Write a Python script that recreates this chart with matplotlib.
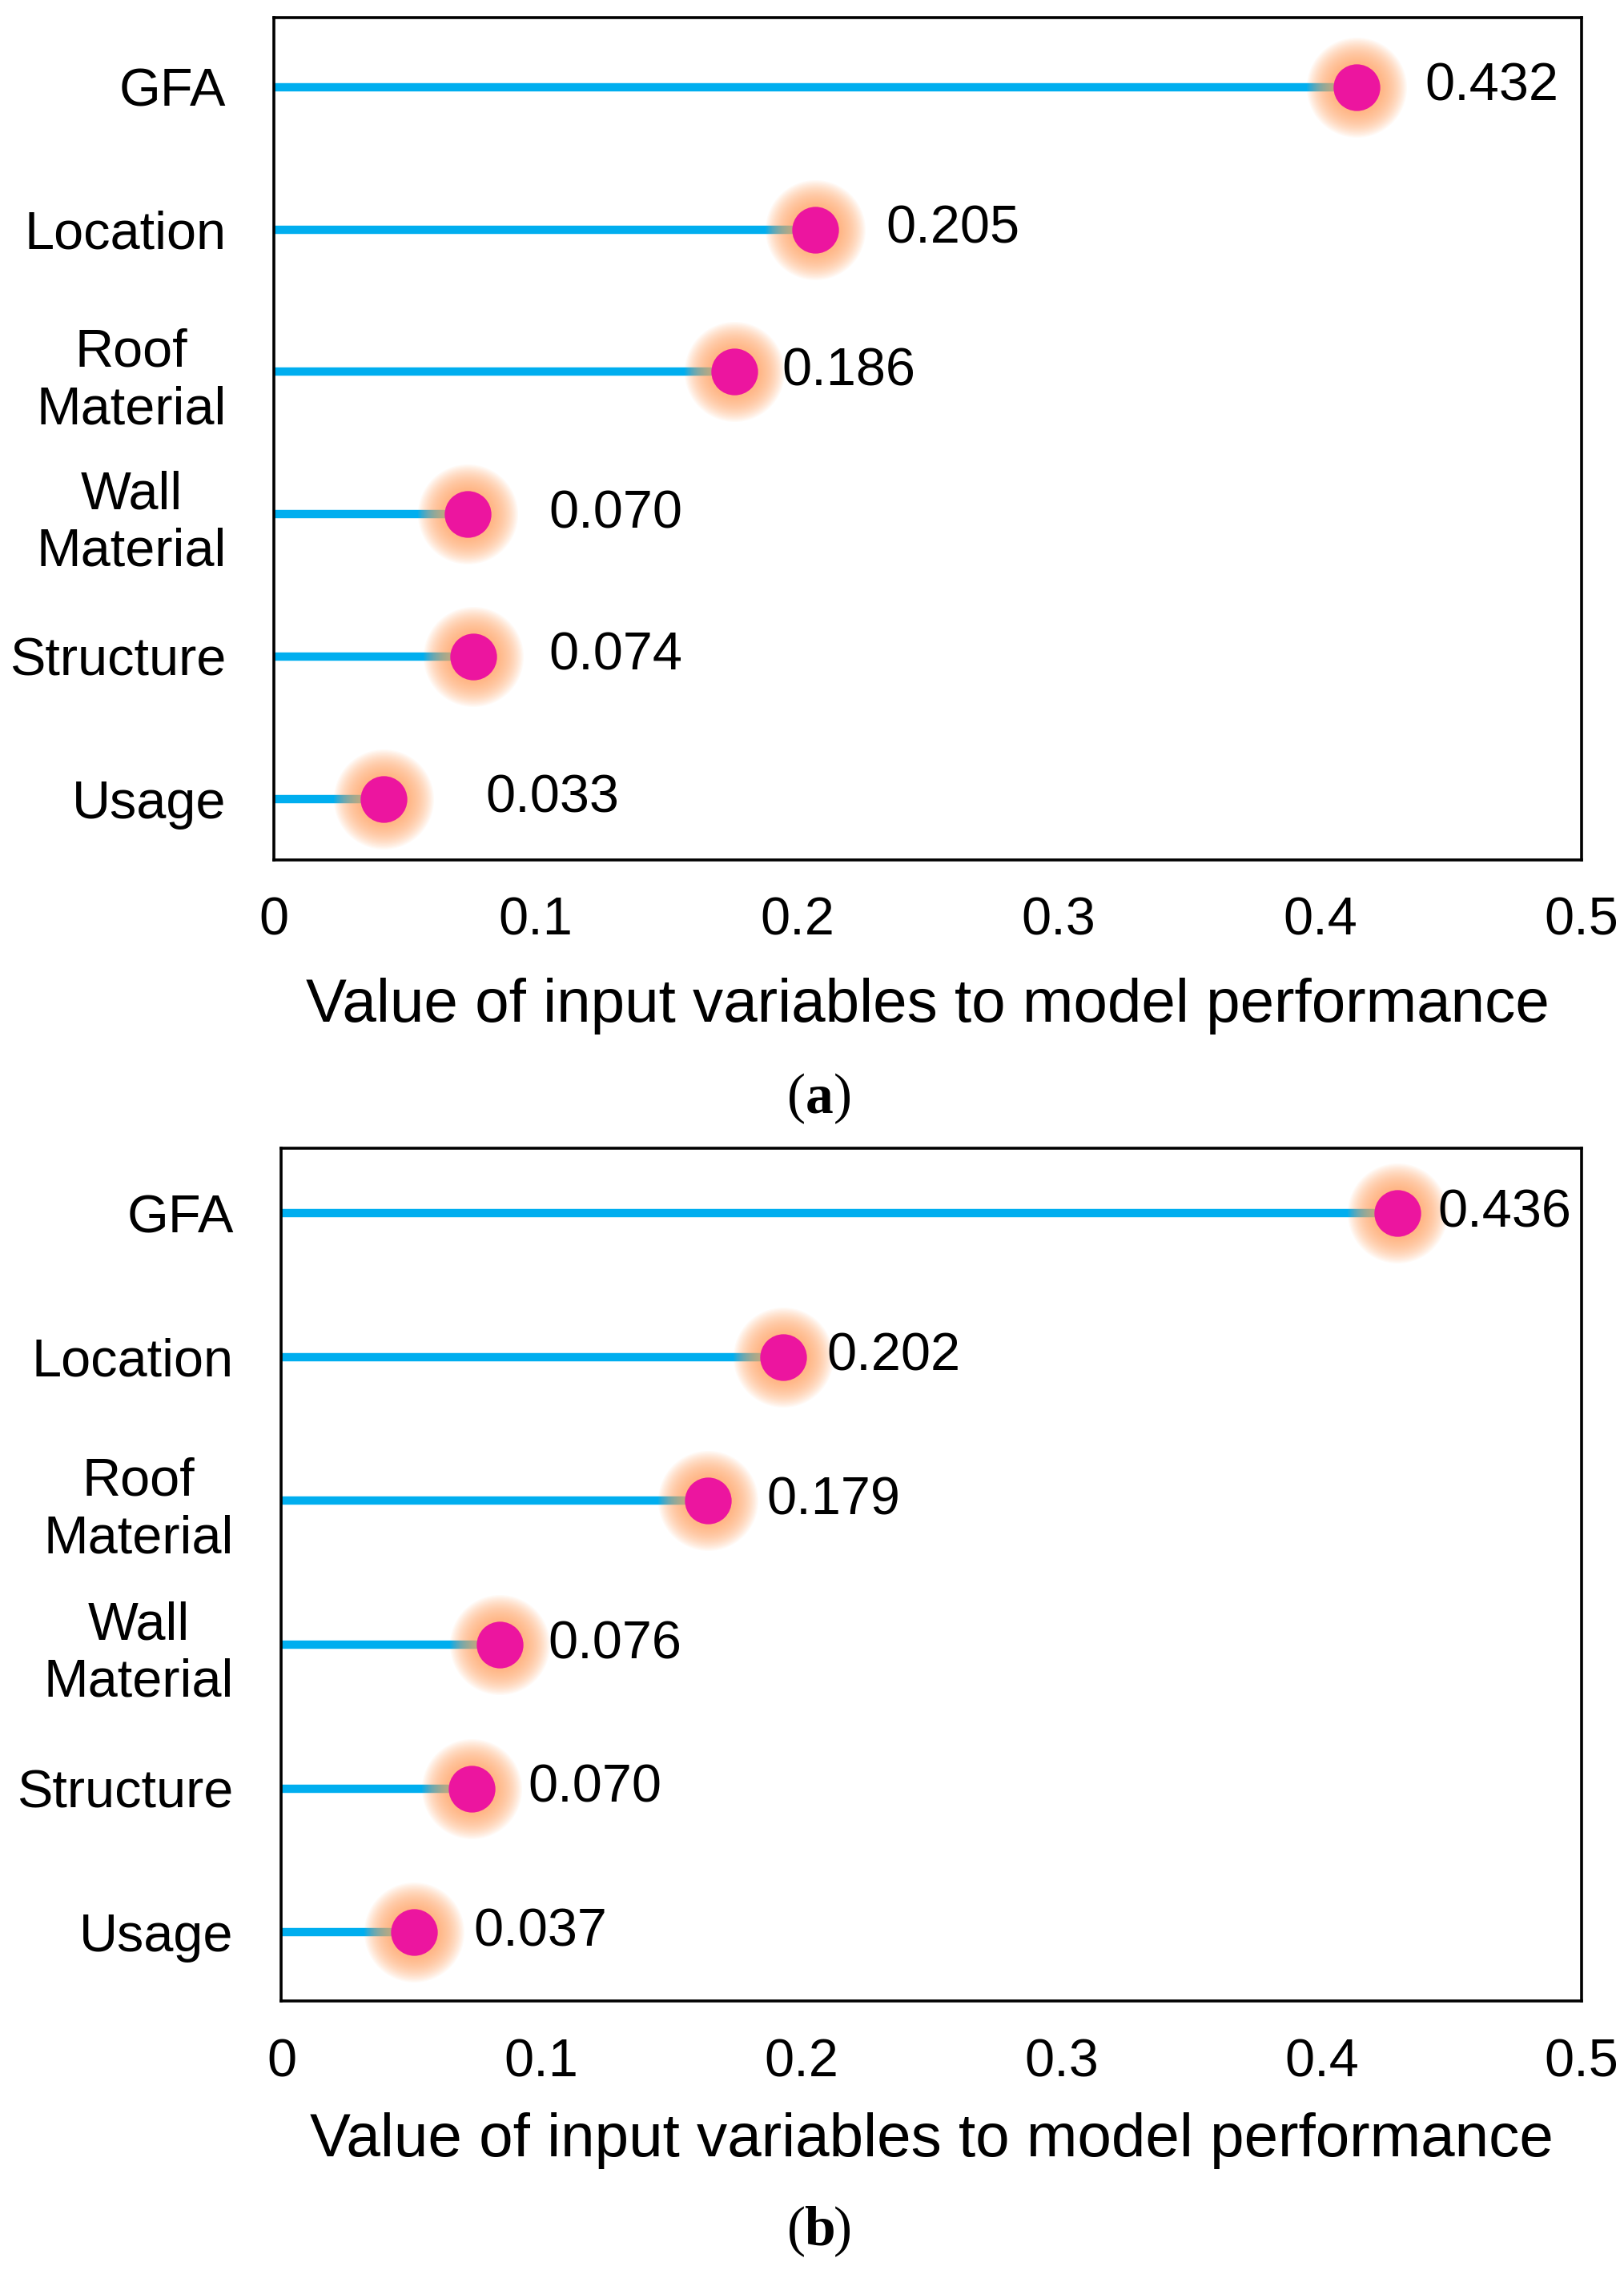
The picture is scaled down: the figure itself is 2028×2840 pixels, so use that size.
import matplotlib
matplotlib.use("Agg")
import matplotlib.pyplot as plt
import numpy as np

plt.rcParams['font.family'] = ['Liberation Sans', 'DejaVu Sans']

# ---------------- data ----------------
categories = ["GFA", "Location", "Roof\nMaterial", "Wall\nMaterial", "Structure", "Usage"]

# panel (a)
values_a = [0.414, 0.207, 0.176, 0.074, 0.076, 0.042]      # dot positions
labels_a = ["0.432", "0.205", "0.186", "0.070", "0.074", "0.033"]
label_x_a = [0.440, 0.234, 0.194, 0.105, 0.105, 0.081]

# panel (b)
values_b = [0.429, 0.193, 0.164, 0.084, 0.073, 0.051]
labels_b = ["0.436", "0.202", "0.179", "0.076", "0.070", "0.037"]
label_x_b = [0.4445, 0.2096, 0.1867, 0.1026, 0.0947, 0.074]

xticks = [0, 0.1, 0.2, 0.3, 0.4, 0.5]
xtick_labels = ["0", "0.1", "0.2", "0.3", "0.4", "0.5"]
xlabel = "Value of input variables to model performance"

LINE_C = "#00AEEF"
DOT_C = "#EC159F"
HALO_C = "#FFA868"
FS = 48

fig = plt.figure(figsize=(20.28, 28.4), dpi=100)


def panel(rect, values, labels, label_x, ylim, xpad, lpad):
    ax = fig.add_axes(rect)
    y = np.arange(len(categories))
    ax.hlines(y, 0, values, color=LINE_C, lw=7.5, zorder=2, capstyle='butt')
    # glow halo
    d0, d1 = 42, 90
    n = 26
    for i in range(n):
        d = d1 - (d1 - d0) * i / (n - 1)
        ax.scatter(values, y, s=d ** 2, color=HALO_C, alpha=0.055, linewidths=0, zorder=3)
    ax.scatter(values, y, s=d0 ** 2, color=DOT_C, linewidths=0, zorder=4)
    for yy, lx, t in zip(y, label_x, labels):
        ax.text(lx, yy, t, fontsize=FS, va='center', ha='left', zorder=5)
    ax.set_xlim(0, 0.5)
    ax.set_ylim(*ylim)
    ax.set_yticks(y)
    ax.set_yticklabels(categories, fontsize=FS, linespacing=1.2, multialignment='center')
    ax.set_xticks(xticks)
    ax.set_xticklabels(xtick_labels, fontsize=FS)
    ax.tick_params(axis='both', length=0)
    ax.tick_params(axis='x', pad=xpad)
    ax.tick_params(axis='y', pad=43)
    ax.set_xlabel(xlabel, fontsize=55, labelpad=lpad)
    for sp in ax.spines.values():
        sp.set_linewidth(2.6)
        sp.set_color('black')
    return ax


ax_a = panel([0.1688, 0.6218, 0.8052, 0.3705], values_a, labels_a, label_x_a, (5.43, -0.49), 33, 28)
ax_b = panel([0.1733, 0.1199, 0.8007, 0.3750], values_b, labels_b, label_x_b, (5.48, -0.45), 33, 22)

for yfig, letter in [(1 - 1372 / 2840, 'a'), (1 - 2787 / 2840, 'b')]:
    kw = dict(fontsize=FS + 2, va='center', family='Liberation Serif')
    fig.text(0.5045, yfig, letter, ha='center', weight='bold', **kw)
    fig.text(0.5045 - 0.0085, yfig, "(", ha='right', **kw)
    fig.text(0.5045 + 0.0085, yfig, ")", ha='left', **kw)

fig.savefig("out.png", dpi=100)
